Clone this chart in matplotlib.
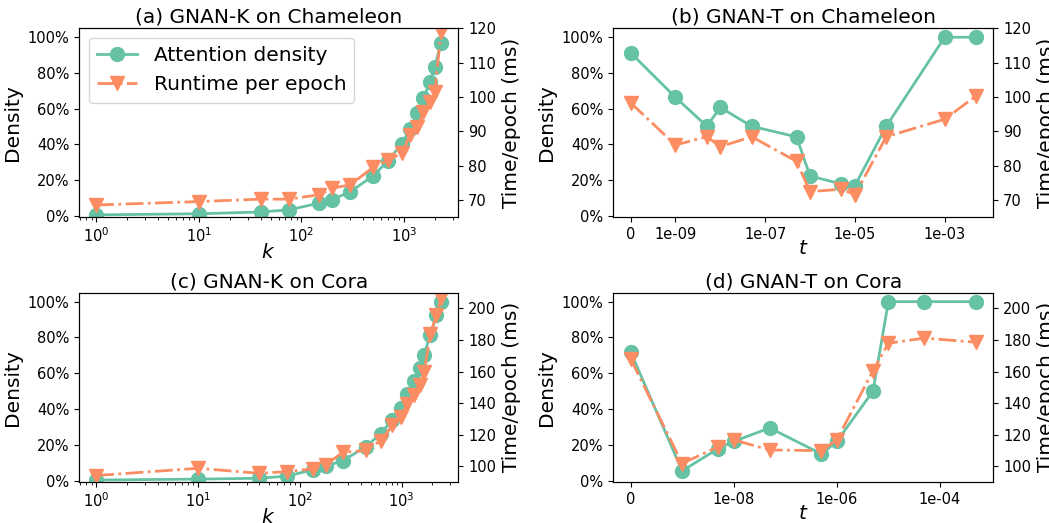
import numpy as np
import matplotlib
matplotlib.use("Agg")
import matplotlib.pyplot as plt
from matplotlib.ticker import PercentFormatter, NullLocator, FixedLocator

# (a) GNAN-K on Chameleon
k_cham = [1, 10, 40, 75, 150, 200, 300, 500, 700, 950, 1150, 1350, 1550, 1800, 2000, 2300]
dens_k_cham = [0.4, 1.0, 2.0, 3.2, 7.0, 9.0, 13.4, 22.2, 30.8, 40.2, 48.4, 57.3, 65.8, 75.1, 83.5, 96.9]
time_k_cham = [68.5, 69.5, 70.2, 70.2, 71.5, 73.4, 74.4, 79.5, 81.5, 83.6, 88.9, 91.3, 95.5, 98.6, 101.5, 119.0]

# (b) GNAN-T on Chameleon  (t = 0 is drawn at 1e-10 and labelled "0")
t_cham = [1e-10, 1e-9, 5e-9, 1e-8, 5e-8, 5e-7, 1e-6, 5e-6, 1e-5, 5e-5, 1e-3, 5e-3]
dens_t_cham = [91.3, 66.3, 50.1, 60.6, 50.1, 44.1, 22.2, 17.7, 16.8, 50.1, 100.0, 100.0]
time_t_cham = [98.3, 86.0, 88.4, 85.5, 88.4, 81.2, 72.4, 73.1, 71.5, 88.4, 93.5, 100.3]

# (c) GNAN-K on Cora
k_cora = [1, 10, 40, 75, 135, 180, 265, 445, 625, 810, 980, 1140, 1320, 1510, 1660, 1920, 2200, 2440]
dens_k_cora = [0.3, 0.8, 1.3, 2.5, 6.1, 8.0, 11.2, 18.8, 26.3, 34.1, 40.6, 48.4, 55.5, 63.0, 70.4, 81.6, 92.3, 99.8]
time_k_cora = [94.1, 98.7, 95.5, 96.6, 98.3, 100.8, 108.9, 110.0, 116.3, 125.9, 131.2, 139.6, 144.9,
               151.3, 159.8, 184.1, 195.8, 206.4]

# (d) GNAN-T on Cora
t_cora = [1e-10, 1e-9, 5e-9, 1e-8, 5e-8, 5e-7, 1e-6, 5e-6, 1e-5, 5e-5, 5e-4]
dens_t_cora = [72.0, 5.4, 17.9, 21.9, 29.4, 14.9, 21.9, 49.9, 100.0, 100.0, 100.0]
time_t_cora = [168.2, 101.7, 112.4, 116.7, 110.3, 109.9, 116.7, 160.4, 178.0, 181.2, 178.6]

GREEN = '#66c2a5'
ORANGE = '#fc8d62'
TICK_FS = 10.5
LABEL_FS = 14.5

fig = plt.figure(figsize=(10.49, 5.23), dpi=100)

W, H = 1049.0, 523.0
def rect(l, t, r, b):
    return [l / W, 1 - b / H, (r - l) / W, (b - t) / H]

panels = [
    (rect(79, 28.3, 458.3, 217), k_cham, dens_k_cham, time_k_cham, '(a) GNAN-K on Chameleon', '$k$', (65, 120), None),
    (rect(613.3, 28.3, 993.3, 217), t_cham, dens_t_cham, time_t_cham, '(b) GNAN-T on Chameleon', '$t$', (65, 120),
     ([1e-10, 1e-9, 1e-7, 1e-5, 1e-3], ['0', '1e-09', '1e-07', '1e-05', '1e-03'])),
    (rect(79, 292.7, 458.3, 482), k_cora, dens_k_cora, time_k_cora, '(c) GNAN-K on Cora', '$k$', (90, 210), None),
    (rect(613.3, 292.7, 993.3, 482), t_cora, dens_t_cora, time_t_cora, '(d) GNAN-T on Cora', '$t$', (90, 210),
     ([1e-10, 1e-8, 1e-6, 1e-4], ['0', '1e-08', '1e-06', '1e-04'])),
]

for i, (r, x, dens, tm, title, xlab, tlim, ticks) in enumerate(panels):
    ax = fig.add_axes(r)
    ax2 = ax.twinx()
    l1, = ax.plot(x, np.array(dens) / 100.0, '-o', color=GREEN, lw=2, ms=10,
                  label='Attention density')
    l2, = ax2.plot(x, tm, linestyle='-.', marker='v', color=ORANGE, lw=2, ms=10,
                   label='Runtime per epoch')
    ax.set_xscale('log')
    if ticks is not None:
        ax.xaxis.set_major_locator(FixedLocator(ticks[0]))
        ax.set_xticklabels(ticks[1])
        ax.xaxis.set_minor_locator(NullLocator())
    ax.set_ylim(-0.008, 1.05)
    ax.set_yticks([0, 0.2, 0.4, 0.6, 0.8, 1.0])
    ax.yaxis.set_major_formatter(PercentFormatter(1.0, decimals=0))
    ax2.set_ylim(*tlim)
    ax.set_title(title, fontsize=LABEL_FS, pad=4)
    ax.set_xlabel(xlab, fontsize=LABEL_FS, labelpad=-2)
    ax.set_ylabel('Density', fontsize=LABEL_FS)
    ax2.set_ylabel('Time/epoch (ms)', fontsize=LABEL_FS)
    ax.tick_params(labelsize=TICK_FS)
    ax2.tick_params(labelsize=TICK_FS)
    if i == 0:
        ax.legend([l1, l2], [l1.get_label(), l2.get_label()], loc='upper left',
                  fontsize=LABEL_FS)

fig.savefig('out.png', dpi=100)
